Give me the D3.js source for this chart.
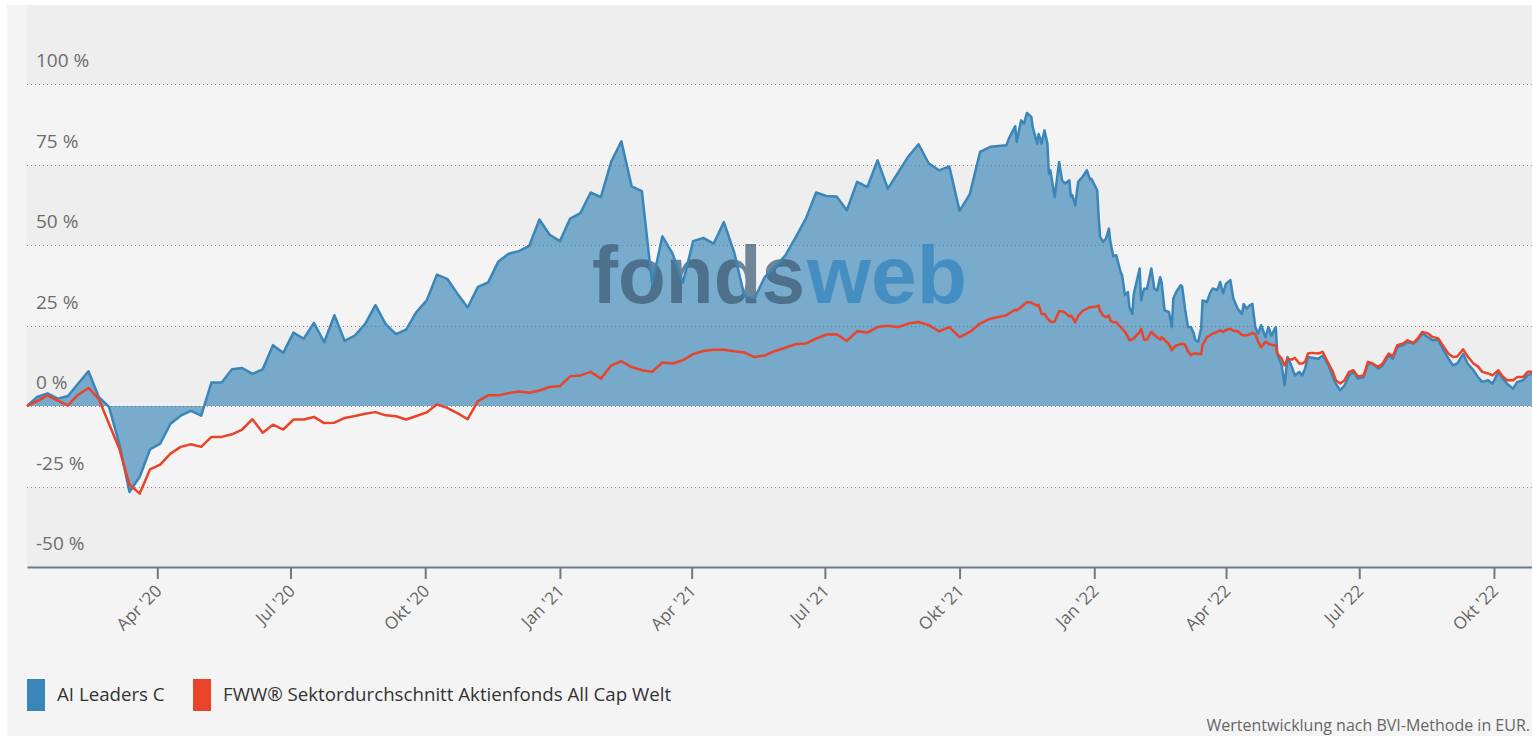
<!DOCTYPE html>
<html>
<head>
<meta charset="utf-8">
<script src="https://cdn.jsdelivr.net/npm/d3@7"></script>
<style>
  body { margin: 0; background: #fff; }
  svg { display: block; font-family: "Open Sans", sans-serif; }
</style>
</head>
<body>
<svg id="chart" width="1532" height="736"></svg>
<script>
// Wertentwicklung AI Leaders C vs. Sektordurchschnitt (in %)

var dates = [
  "2020-01-03","2020-01-10","2020-01-17","2020-01-24","2020-01-31",
  "2020-02-07","2020-02-14","2020-02-21","2020-02-28",
  "2020-03-06","2020-03-13","2020-03-20","2020-03-27",
  "2020-04-03","2020-04-10","2020-04-17","2020-04-24",
  "2020-05-01","2020-05-08","2020-05-15","2020-05-22","2020-05-29",
  "2020-06-05","2020-06-12","2020-06-19","2020-06-26",
  "2020-07-03","2020-07-10","2020-07-17","2020-07-24","2020-07-31",
  "2020-08-07","2020-08-14","2020-08-21","2020-08-28",
  "2020-09-04","2020-09-11","2020-09-18","2020-09-25",
  "2020-10-02","2020-10-09","2020-10-16","2020-10-23","2020-10-30",
  "2020-11-06","2020-11-13","2020-11-20","2020-11-27",
  "2020-12-04","2020-12-11","2020-12-18","2020-12-25",
  "2021-01-01","2021-01-08","2021-01-15","2021-01-22","2021-01-29",
  "2021-02-05","2021-02-12","2021-02-19","2021-02-26",
  "2021-03-05","2021-03-12","2021-03-19","2021-03-26",
  "2021-04-02","2021-04-09","2021-04-16","2021-04-23","2021-04-30",
  "2021-05-07","2021-05-14","2021-05-21","2021-05-28",
  "2021-06-04","2021-06-11","2021-06-18","2021-06-25",
  "2021-07-02","2021-07-09","2021-07-16","2021-07-23","2021-07-30",
  "2021-08-06","2021-08-13","2021-08-20","2021-08-27",
  "2021-09-03","2021-09-10","2021-09-17","2021-09-24",
  "2021-10-01","2021-10-08","2021-10-15","2021-10-22",
  "2021-11-02","2021-11-04","2021-11-08","2021-11-09","2021-11-12","2021-11-14","2021-11-16",
  "2021-11-19","2021-11-20","2021-11-23","2021-11-24","2021-11-26","2021-11-28","2021-11-30",
  "2021-12-01","2021-12-02","2021-12-04","2021-12-05","2021-12-08","2021-12-10","2021-12-12",
  "2021-12-15","2021-12-16","2021-12-17","2021-12-19","2021-12-21","2021-12-24","2021-12-27",
  "2021-12-29","2021-12-30",
  "2022-01-03","2022-01-04","2022-01-05","2022-01-07","2022-01-09","2022-01-11","2022-01-12",
  "2022-01-14","2022-01-16","2022-01-19","2022-01-20","2022-01-22","2022-01-24","2022-01-25",
  "2022-01-27","2022-01-28",
  "2022-02-01","2022-02-02","2022-02-04","2022-02-06","2022-02-09","2022-02-11","2022-02-13",
  "2022-02-15","2022-02-16","2022-02-18","2022-02-21","2022-02-23","2022-02-24","2022-02-26",
  "2022-03-01","2022-03-02","2022-03-04","2022-03-06","2022-03-08","2022-03-10","2022-03-11",
  "2022-03-13","2022-03-15","2022-03-16","2022-03-19","2022-03-21","2022-03-23","2022-03-26",
  "2022-03-28","2022-03-30",
  "2022-04-01","2022-04-04","2022-04-06","2022-04-09","2022-04-12","2022-04-13","2022-04-15",
  "2022-04-17","2022-04-19","2022-04-21","2022-04-23","2022-04-25","2022-04-28","2022-04-30",
  "2022-05-02","2022-05-05","2022-05-06","2022-05-09","2022-05-11","2022-05-13","2022-05-16",
  "2022-05-18","2022-05-21","2022-05-23","2022-05-25","2022-05-27","2022-05-30",
  "2022-06-03","2022-06-06","2022-06-10","2022-06-13","2022-06-15","2022-06-18","2022-06-21",
  "2022-06-24","2022-06-27","2022-06-30",
  "2022-07-04","2022-07-07","2022-07-10","2022-07-14","2022-07-17","2022-07-21","2022-07-24",
  "2022-07-27","2022-07-31",
  "2022-08-03","2022-08-07","2022-08-10","2022-08-13","2022-08-17","2022-08-20","2022-08-24",
  "2022-08-27","2022-08-31",
  "2022-09-03","2022-09-06","2022-09-10","2022-09-13","2022-09-17","2022-09-20","2022-09-23",
  "2022-09-27","2022-09-30",
  "2022-10-04","2022-10-07","2022-10-10","2022-10-14","2022-10-17","2022-10-21","2022-10-24",
  "2022-10-27"
];

var aiLeaders = [
  0, 2.8, 3.9, 2.3, 3.1,
  7.0, 10.8, 2.8, -0.3,
  -11.7, -26.7, -22.0, -13.5,
  -11.7, -5.5, -3.0, -1.5,
  -3.0, 7.3, 7.3, 11.4, 11.8,
  10.0, 11.4, 18.9, 16.5,
  22.8, 20.9, 25.8, 19.8, 28.2,
  20.2, 21.9, 25.5, 31.3,
  25.4, 22.3, 23.7, 29.2,
  32.8, 40.8, 39.5, 34.9, 30.6,
  37.0, 38.4, 44.9, 47.3,
  48.1, 49.7, 57.9, 53.2,
  51.2, 58.2, 59.9, 66.3, 64.9,
  75.8, 82.2, 68.2, 66.7,
  38.0, 52.7, 47.3, 38.3,
  51.2, 52.2, 50.4, 57.1, 47.8,
  34.2, 33.5, 40.1, 43.2,
  46.8, 52.4, 58.2, 66.3,
  65.2, 65.1, 60.8, 69.6, 68.0,
  76.3, 67.5, 72.5, 77.5,
  81.3, 75.3, 73.2, 74.4,
  60.6, 65.8, 78.9, 80.5,
  81.0, 83.4, 86.9, 82.0, 88.7, 87.7, 91.0,
  89.8, 86.6, 81.5, 84.5, 81.5, 85.6, 81.5,
  72.2, 73.2, 67.5, 65.0, 75.8, 70.1, 69.1,
  70.1, 65.0, 65.5, 62.3, 69.6, 71.2, 73.2,
  70.4, 70.6,
  67.0, 58.7, 52.5, 51.0, 52.0, 55.1, 51.0,
  46.5, 46.8, 41.6, 40.6, 34.4, 35.4, 30.7,
  28.6, 34.8,
  42.7, 32.8, 36.4, 36.4, 42.7, 36.4, 35.9,
  40.0, 38.5, 29.7, 29.2, 24.5, 33.4, 35.4,
  37.5, 37.2, 30.2, 24.5, 24.5, 22.5, 20.5,
  20.0, 24.1, 32.8, 32.3, 35.0, 36.5, 36.0,
  38.5, 35.0,
  38.0, 39.1, 33.4, 30.2, 28.6, 31.7, 30.2,
  31.2, 31.7, 24.5, 22.5, 25.1, 21.4, 24.5,
  21.9, 24.5, 16.3, 12.7, 6.4, 15.2, 12.1,
  9.5, 10.6, 9.5, 11.6, 15.2, 15.0,
  14.7, 15.7, 12.6, 9.0, 6.9, 4.9, 6.4,
  9.5, 10.6, 8.5,
  9.0, 13.2, 13.2, 11.6, 12.6, 15.7, 14.7,
  18.3, 18.9,
  19.9, 19.4, 20.6, 22.5, 21.4, 20.4, 20.6,
  17.8, 14.7,
  12.6, 13.2, 16.2, 13.2, 11.1, 9.0, 7.5,
  8.0, 6.9,
  10.6, 8.5, 6.9, 5.4, 7.5, 8.0, 9.5,
  10.1
];

var sektor = [
  0, 1.5, 3.3, 1.7, 0.2,
  3.5, 5.6, 2.2, -5.5,
  -13.2, -24.4, -27.2, -19.7,
  -18.2, -14.8, -12.7, -11.9,
  -12.7, -9.6, -9.6, -8.8, -7.3,
  -4.1, -8.3, -5.8, -7.3,
  -4.2, -4.2, -3.4, -5.3, -5.2,
  -3.7, -3.1, -2.4, -1.9,
  -2.9, -3.2, -4.2, -3.1,
  -2.0, 0.5, -0.6, -2.2, -4.1,
  1.5, 3.3, 3.3, 4.0,
  4.5, 4.1, 4.8, 5.9,
  6.2, 9.2, 9.5, 10.6, 8.5,
  12.6, 13.9, 12.1, 11.1,
  10.6, 13.5, 13.2, 14.2,
  16.1, 17.1, 17.5, 17.5, 17.0,
  16.6, 15.2, 15.7, 17.1,
  18.1, 19.2, 19.4, 20.9,
  22.2, 22.3, 20.2, 23.2, 22.8,
  24.5, 24.9, 24.5, 25.6,
  26.1, 25.1, 23.2, 24.5,
  21.4, 23.0, 25.6, 27.1,
  28.2, 28.8, 29.9, 29.7, 30.7, 31.5, 32.3,
  32.1, 31.8, 31.2, 31.4, 28.6, 28.6, 27.2,
  26.8, 26.2, 26.1, 26.3, 29.4, 29.4, 29.0,
  27.8, 28.1, 27.6, 26.0, 28.0, 29.5, 30.2,
  30.7, 30.7,
  31.0, 31.2, 29.5, 28.1, 27.6, 28.1, 26.5,
  26.0, 26.0, 24.5, 24.0, 23.0, 21.5, 20.4,
  20.8, 21.0,
  23.0, 24.0, 20.6, 20.6, 23.0, 22.0, 21.4,
  20.6, 21.4, 20.5, 19.2, 17.3, 18.0, 18.8,
  19.2, 19.4, 19.0, 17.0, 15.8, 16.3, 16.3,
  16.2, 16.1, 19.0, 21.4, 21.9, 22.5, 23.0,
  23.5, 23.0,
  23.6, 24.0, 23.4, 23.2, 22.0, 22.0, 22.0,
  22.2, 22.7, 22.3, 19.9, 18.3, 19.9, 19.4,
  19.0, 18.8, 16.3, 14.7, 12.6, 14.7, 14.4,
  15.0, 13.2, 13.2, 13.7, 16.3, 16.5,
  16.3, 16.8, 13.2, 10.6, 8.0, 7.0, 8.0,
  10.6, 11.1, 9.2,
  9.5, 13.7, 13.2, 12.1, 13.2, 16.3, 15.5,
  18.9, 19.4,
  20.4, 19.6, 21.0, 23.0, 22.5, 21.4, 21.0,
  18.9, 16.2,
  15.2, 15.4, 17.6, 15.4, 13.2, 12.3, 10.6,
  10.1, 9.5,
  11.1, 9.2, 8.0, 8.0, 9.0, 9.0, 10.6,
  10.6
];

var yTicks = [-50, -25, 0, 25, 50, 75, 100];
var yTop = 125;
var tickDates = ["2020-04-01","2020-07-01","2020-10-01","2021-01-01","2021-04-01","2021-07-01",
                 "2021-10-01","2022-01-01","2022-04-01","2022-07-01","2022-10-01"];
var tickLabels = ["Apr '20","Jul '20","Okt '20","Jan '21","Apr '21","Jul '21",
                  "Okt '21","Jan '22","Apr '22","Jul '22","Okt '22"];
var seriesNames = ["AI Leaders C", "FWW\u00ae Sektordurchschnitt Aktienfonds All Cap Welt"];
var seriesColors = ["#3a86b8", "#e9432a"];
var footNote = "Wertentwicklung nach BVI-Methode in EUR.";

var parse = d3.timeParse("%Y-%m-%d");
var data = dates.map(function(d, i) {
  return { date: parse(d), ai: aiLeaders[i], sek: sektor[i] };
});

var svg = d3.select("#chart");
var W = 1532, H = 736;
var plot = { left: 27, right: 1532, top: 5, bottom: 567 };

var x = d3.scaleTime()
  .domain([parse("2020-01-03"), parse("2022-10-27")])
  .range([plot.left, plot.right]);
var y = d3.scaleLinear()
  .domain([-50, yTop])
  .range([plot.bottom, 3.5]);

// background container
svg.append("rect")
  .attr("x", 7).attr("y", 5)
  .attr("width", W - 7).attr("height", H - 5)
  .attr("fill", "#f4f4f4");

// alternating bands
var bandEdges = yTicks.concat([yTop]);
for (var i = 0; i < bandEdges.length - 1; i++) {
  var yt = Math.max(plot.top, y(bandEdges[i + 1]));
  svg.append("rect")
    .attr("x", plot.left)
    .attr("y", yt)
    .attr("width", plot.right - plot.left)
    .attr("height", y(bandEdges[i]) - yt)
    .attr("fill", i % 2 === 0 ? "#eeeeee" : "#f4f4f4");
}

// dotted grid
svg.append("g").selectAll("line")
  .data(yTicks.filter(function(v) { return v > -50; }))
  .enter().append("line")
  .attr("x1", plot.left).attr("x2", plot.right)
  .attr("y1", function(v) { return Math.round(y(v)) + 0.5; })
  .attr("y2", function(v) { return Math.round(y(v)) + 0.5; })
  .attr("stroke", "#8a8a8a")
  .attr("stroke-width", 1)
  .attr("stroke-dasharray", "1,3");

// y labels
svg.append("g").selectAll("text")
  .data(yTicks)
  .enter().append("text")
  .attr("x", 36)
  .attr("y", function(v) { return y(v) - 17; })
  .attr("fill", "#6d6d6d")
  .style("font-size", "19px")
  .text(function(v) { return v + " %"; });

// area of fund
var area = d3.area()
  .x(function(d) { return x(d.date); })
  .y0(y(0))
  .y1(function(d) { return y(d.ai); });

svg.append("path")
  .datum(data)
  .attr("d", area)
  .attr("fill", seriesColors[0])
  .attr("fill-opacity", 0.67);

// watermark
var wm = svg.append("g").style("font-family", "'Liberation Sans', Arial, sans-serif")
  .style("font-weight", "bold").style("font-size", "82px");
wm.append("text")
  .attr("x", 592).attr("y", 303)
  .attr("textLength", 213).attr("lengthAdjust", "spacingAndGlyphs")
  .attr("fill", "#3d5a73").attr("fill-opacity", 0.72)
  .text("fonds");
wm.append("text")
  .attr("x", 807).attr("y", 303)
  .attr("textLength", 160).attr("lengthAdjust", "spacingAndGlyphs")
  .attr("fill", "#2f82bd").attr("fill-opacity", 0.7)
  .text("web");

// lines
var lineAi = d3.line()
  .x(function(d) { return x(d.date); })
  .y(function(d) { return y(d.ai); });
var lineSek = d3.line()
  .x(function(d) { return x(d.date); })
  .y(function(d) { return y(d.sek); });

svg.append("path")
  .datum(data)
  .attr("d", lineAi)
  .attr("fill", "none")
  .attr("stroke", seriesColors[0])
  .attr("stroke-width", 2.5)
  .attr("stroke-linejoin", "round");

svg.append("path")
  .datum(data)
  .attr("d", lineSek)
  .attr("fill", "none")
  .attr("stroke", seriesColors[1])
  .attr("stroke-width", 2.5)
  .attr("stroke-linejoin", "round");

// x axis
var xAxis = d3.axisBottom(x)
  .tickValues(tickDates.map(parse))
  .tickFormat(function(d, i) { return tickLabels[i]; })
  .tickSizeInner(12)
  .tickSizeOuter(0);

var gx = svg.append("g")
  .attr("transform", "translate(0," + plot.bottom + ")")
  .call(xAxis);
gx.select(".domain").attr("stroke", "#707985").attr("stroke-width", 2);
gx.selectAll(".tick line").attr("stroke", "#707985").attr("stroke-width", 2);
gx.selectAll(".tick text")
  .attr("x", null).attr("y", null).attr("dy", null)
  .attr("text-anchor", "end")
  .attr("transform", "translate(5,25) rotate(-45)")
  .attr("fill", "#666")
  .style("font-family", "'Open Sans', sans-serif")
  .style("font-size", "17px");

// legend
var legX = [27, 193];
var legend = svg.append("g");
seriesNames.forEach(function(name, i) {
  legend.append("rect")
    .attr("x", legX[i]).attr("y", 679)
    .attr("width", 18).attr("height", 32)
    .attr("fill", seriesColors[i]);
  legend.append("text")
    .attr("x", legX[i] + 30).attr("y", 701)
    .attr("fill", "#333")
    .style("font-size", "18.7px")
    .text(name);
});

// foot note
svg.append("text")
  .attr("x", 1530).attr("y", 731)
  .attr("text-anchor", "end")
  .attr("fill", "#666")
  .style("font-size", "16px")
  .text(footNote);
</script>
</body>
</html>
